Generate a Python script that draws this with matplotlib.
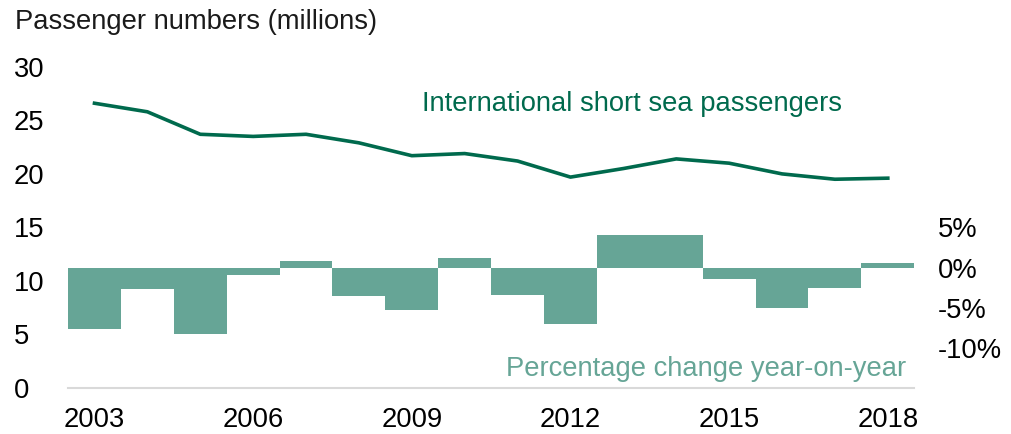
import matplotlib
matplotlib.use("Agg")
import matplotlib.pyplot as plt

plt.rcParams['font.family'] = ['Liberation Sans', 'DejaVu Sans']

years = list(range(2003, 2019))
passengers = [26.6, 25.8, 23.7, 23.5, 23.7, 22.9, 21.7, 21.9,
              21.2, 19.7, 20.5, 21.4, 21.0, 20.0, 19.5, 19.6]
pct_change = [-7.6, -2.7, -8.25, -0.9, 0.85, -3.5, -5.3, 1.2,
              -3.4, -7.0, 4.05, 4.05, -1.45, -5.0, -2.5, 0.55]
xticks = [2003, 2006, 2009, 2012, 2015, 2018]
left_ticks = [0, 5, 10, 15, 20, 25, 30]
right_ticks = [-10, -5, 0, 5]
right_labels = ['-10%', '-5%', '0%', '5%']

line_col = '#006a4d'
bar_col = '#66a596'
fs = 19.7

fig = plt.figure(figsize=(10.11, 4.34), dpi=100)
ax = fig.add_axes([0.0673, 0.106, 0.837, 0.74])
ax2 = ax.twinx()

ax2.bar(years, pct_change, width=1.0, color=bar_col, linewidth=0)
ax2.set_ylim(-15, 25)
ax2.set_yticks(right_ticks)
ax2.set_yticklabels(right_labels)
ax2.tick_params(axis='y', length=0, pad=17, labelsize=fs)

ax.plot(years, passengers, color=line_col, linewidth=2.6, solid_joinstyle='round')
ax.set_ylim(0, 30)
ax.set_xlim(2002.5, 2018.5)
ax.set_yticks(left_ticks)
ax.set_xticks(xticks)
ax.tick_params(axis='y', length=0, pad=39, labelsize=fs)
for lab in ax.get_yticklabels():
    lab.set_horizontalalignment('left')
ax.tick_params(axis='x', length=0, pad=14, labelsize=fs)

ax.set_zorder(ax2.get_zorder() + 1)
ax.patch.set_visible(False)

for a in (ax, ax2):
    for s in a.spines.values():
        s.set_visible(False)
ax.spines['bottom'].set_visible(True)
ax.spines['bottom'].set_color('#d9d9d9')
ax.spines['bottom'].set_linewidth(1.5)

fig.text(0.015, 0.95, 'Passenger numbers (millions)', fontsize=fs,
         va='center', ha='left', color='#1a1a1a')
ax.text(2009.2, 26.5, 'International short sea passengers', fontsize=fs,
        color=line_col, va='center', ha='left')
ax.text(2018.35, 1.8, 'Percentage change year-on-year', fontsize=fs,
        color=bar_col, va='center', ha='right')

fig.savefig('out.png', dpi=100)
